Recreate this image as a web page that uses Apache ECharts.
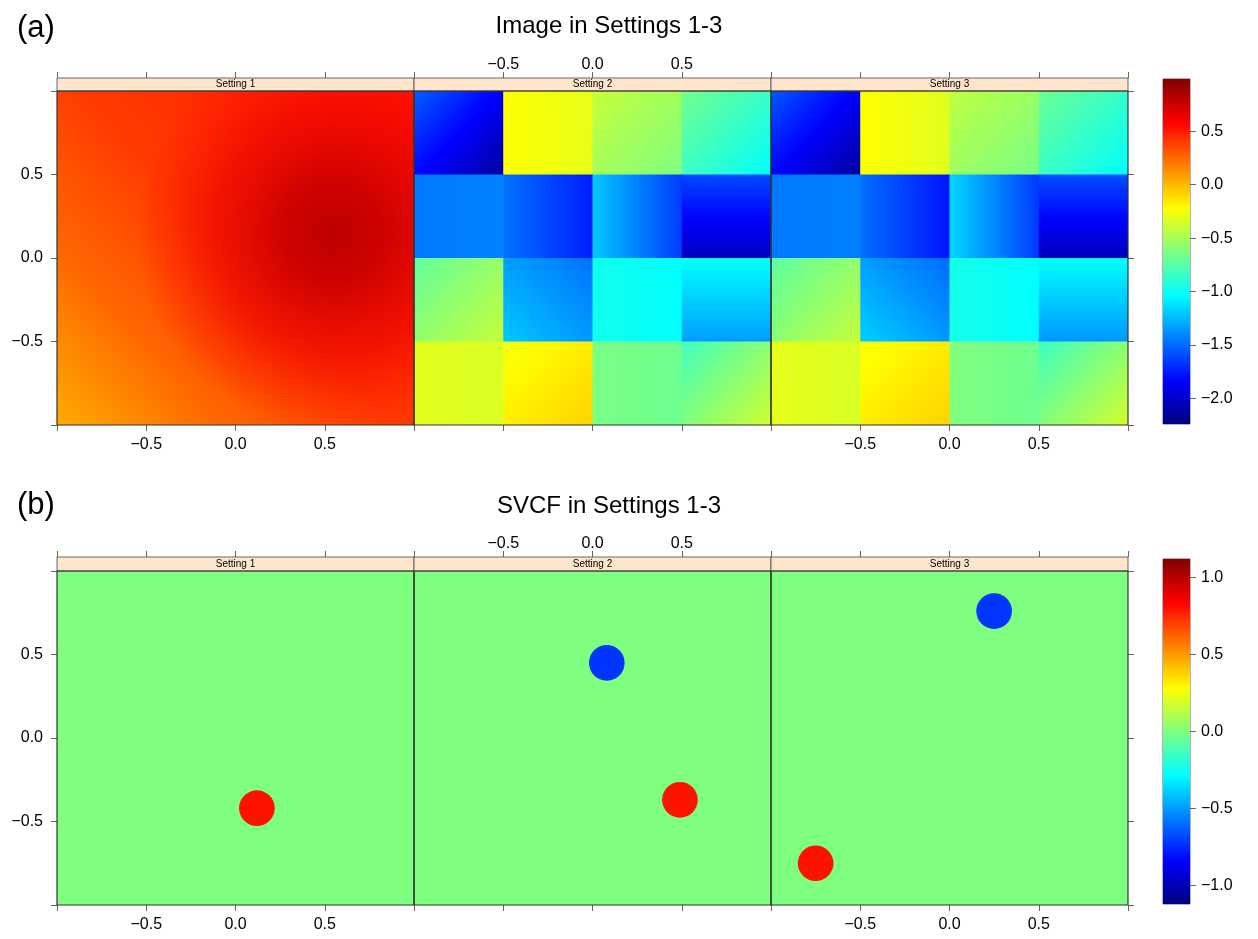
<!DOCTYPE html>
<html>
<head>
<meta charset="utf-8">
<script src="https://cdn.jsdelivr.net/npm/echarts@6/dist/echarts.min.js"></script>
<style>
  html, body { margin: 0; background: #fff; }
  #chart { width: 1258px; height: 939px; }
</style>
</head>
<body>
<div id="chart"></div>
<script>
const settings = ['Setting 1', 'Setting 2', 'Setting 3']
const panelTitles = ['Image in Settings 1-3', 'SVCF in Settings 1-3']
const panelTags = ['(a)', '(b)']

const imageRange = [-2.24, 0.99]
const imageBarTicks = [-2, -1.5, -1, -0.5, 0, 0.5]
const svcfRange = [-1.12, 1.12]
const svcfBarTicks = [-1, -0.5, 0, 0.5, 1]
const jetColors = ['#00007F', '#0000FF', '#007FFF', '#00FFFF', '#7FFF7F', '#FFFF00', '#FF7F00', '#FF0000', '#7F0000']

// Setting 1 image: smooth surface
// ramp along the diagonal bottom-left -> top-right: [position, value]
const s1Ramp = [[0, 0.04], [0.25, 0.26], [0.5, 0.4], [1, 0.52]]
const s1Peak = [0.55, 0.15]
// around the peak: [distance, value]
const s1PeakProfile = [[0, 0.8], [0.3, 0.75], [0.7, 0.65], [1.15, 0.56]]

// Settings 2-3 image: 4x4 blocks [x0, y0, valueStart, valueEnd, direction]
const s2Blocks = [
  [-1, 0.5, -1.53, -2.14, 'd'], [-0.5, 0.5, -0.22, -0.3, 'h'], [0, 0.5, -0.4, -0.63, 'd'], [0.5, 0.5, -0.66, -1.03, 'd'],
  [-1, 0, -1.45, -1.42, 'h'], [-0.5, 0, -1.47, -1.75, 'h'], [0, 0, -1.2, -1.65, 'h'], [0.5, 0, -1.6, -2.04, 'v'],
  [-1, -0.5, -0.72, -0.4, 'd'], [-0.5, -0.5, -1.2, -1.48, 'a'], [0, -0.5, -0.97, -1.03, 'h'], [0.5, -0.5, -1.02, -1.34, 'v'],
  [-1, -1, -0.31, -0.34, 'h'], [-0.5, -1, -0.26, -0.08, 'd'], [0, -1, -0.64, -0.68, 'h'], [0.5, -1, -0.83, -0.37, 'd'],
]
const s3Blocks = [
  [-1, 0.5, -1.55, -2.15, 'd'], [-0.5, 0.5, -0.22, -0.32, 'h'], [0, 0.5, -0.42, -0.65, 'd'], [0.5, 0.5, -0.68, -1.03, 'd'],
  [-1, 0, -1.45, -1.43, 'h'], [-0.5, 0, -1.48, -1.78, 'h'], [0, 0, -1.15, -1.66, 'h'], [0.5, 0, -1.58, -2.06, 'v'],
  [-1, -0.5, -0.74, -0.4, 'd'], [-0.5, -0.5, -1.18, -1.5, 'a'], [0, -0.5, -0.96, -1.03, 'h'], [0.5, -0.5, -1.02, -1.36, 'v'],
  [-1, -1, -0.3, -0.34, 'h'], [-0.5, -1, -0.25, -0.08, 'd'], [0, -1, -0.62, -0.68, 'h'], [0.5, -1, -0.84, -0.36, 'd'],
]

// SVCF: zero everywhere except discs [setting, x, y, radius, value]
const svcfBackground = 0
const svcfDiscs = [
  [0, 0.12, -0.42, 0.1, 0.8],
  [1, 0.08, 0.45, 0.1, -0.72],
  [1, 0.49, -0.37, 0.1, 0.8],
  [2, 0.25, 0.76, 0.1, -0.72],
  [2, -0.75, -0.75, 0.1, 0.8],
]

const FONT = 'Liberation Sans, Arial, Helvetica, sans-serif'
const COL_LEFT = [57, 414, 771]
const PANEL_W = 357
const PANEL_H = 334
const ROW_TOP = [91, 571]
const STRIP_H = [13, 14]
const BAR = [{ top: 79, height: 345 }, { top: 559, height: 345 }]
const GRAD_DIR = { h: [0, 0, 1, 0], v: [0, 0, 0, 1], d: [0, 0, 1, 1], a: [0, 1, 1, 0] }

const hexRgb = h => [1, 3, 5].map(i => parseInt(h.slice(i, i + 2), 16))
const JET = jetColors.map(hexRgb)

function jet(v, range, alpha) {
  let f = (v - range[0]) / (range[1] - range[0])
  f = Math.max(0, Math.min(1, f))
  const p = f * 8
  const i = Math.min(7, Math.floor(p))
  const t = p - i
  const c = JET[i].map((a, k) => Math.round(a + (JET[i + 1][k] - a) * t))
  return `rgba(${c[0]},${c[1]},${c[2]},${alpha == null ? 1 : alpha})`
}

const fmt = v => (v < 0 ? '\u2212' : '') + Math.abs(v).toFixed(1)

function valueStops(v1, v2, range) {
  const stops = []
  for (let k = 0; k <= 6; k++) stops.push({ offset: k / 6, color: jet(v1 + (v2 - v1) * k / 6, range) })
  return stops
}

function renderSmooth(params, api) {
  const tl = api.coord([-1, 1])
  const br = api.coord([1, -1])
  const shape = { x: tl[0], y: tl[1], width: br[0] - tl[0], height: br[1] - tl[1] }
  const base = new echarts.graphic.LinearGradient(0, 1, 1, 0,
    s1Ramp.map(([o, v]) => ({ offset: o, color: jet(v, imageRange) })))
  const c = api.coord(s1Peak)
  const maxD = s1PeakProfile[s1PeakProfile.length - 1][0]
  const rs = api.size([maxD, maxD])
  const glow = new echarts.graphic.RadialGradient(c[0], c[1], (rs[0] + rs[1]) / 2,
    s1PeakProfile.map(([d, v]) => ({ offset: d / maxD, color: jet(v, imageRange, 1 - Math.pow(d / maxD, 2)) })), true)
  return {
    type: 'group',
    children: [
      { type: 'rect', shape, style: { fill: base } },
      { type: 'rect', shape, style: { fill: glow } },
    ],
  }
}

function blockRenderer(blocks) {
  return (params, api) => {
    const b = blocks[params.dataIndex]
    const tl = api.coord([b[0], b[1] + 0.5])
    const sz = api.size([0.5, 0.5])
    const d = GRAD_DIR[b[4]]
    return {
      type: 'rect',
      shape: { x: tl[0], y: tl[1], width: sz[0] + 0.6, height: sz[1] + 0.6 },
      style: { fill: new echarts.graphic.LinearGradient(d[0], d[1], d[2], d[3], valueStops(b[2], b[3], imageRange)) },
    }
  }
}

function renderSvcfBackground(params, api) {
  const tl = api.coord([-1, 1])
  const sz = api.size([2, 2])
  return { type: 'rect', shape: { x: tl[0], y: tl[1], width: sz[0], height: sz[1] }, style: { fill: jet(api.value(0), svcfRange) } }
}

function renderDisc(params, api) {
  const c = api.coord([api.value(0), api.value(1)])
  const r = api.size([api.value(2), 0])[0]
  return { type: 'circle', shape: { cx: c[0], cy: c[1], r }, style: { fill: jet(api.value(3), svcfRange) } }
}

function renderBar(range) {
  return (params, api) => {
    const tl = api.coord([0, range[1]])
    const br = api.coord([1, range[0]])
    return {
      type: 'rect',
      shape: { x: tl[0], y: tl[1], width: br[0] - tl[0], height: br[1] - tl[1] },
      style: { fill: new echarts.graphic.LinearGradient(0, 1, 0, 0, jetColors.map((c, i) => ({ offset: i / 8, color: c }))) },
    }
  }
}

const grids = [], xAxes = [], yAxes = [], series = [], graphics = []
const noLine = { show: false, onZero: false }
const tickStyle = { show: true, length: 6, inside: false, lineStyle: { color: '#666', width: 1 } }
const labelStyle = (show, margin) => ({
  show, margin, color: '#000', fontSize: 16, fontFamily: FONT,
  formatter: v => (Math.abs(v) === 1 ? '' : fmt(v)),
})

for (let r = 0; r < 2; r++) {
  for (let c = 0; c < 3; c++) {
    const g = r * 3 + c
    grids.push({ left: COL_LEFT[c], top: ROW_TOP[r], width: PANEL_W, height: PANEL_H })
    const xBase = { type: 'value', gridIndex: g, min: -1, max: 1, interval: 0.5, axisLine: noLine, axisTick: tickStyle, splitLine: { show: false } }
    xAxes.push({ ...xBase, position: 'bottom', axisLabel: labelStyle(c !== 1, 12) })
    xAxes.push({ ...xBase, position: 'top', offset: STRIP_H[r], axisLabel: labelStyle(c === 1, 5) })
    const yBase = { type: 'value', gridIndex: g, min: -1, max: 1, interval: 0.5, axisLine: noLine, splitLine: { show: false } }
    yAxes.push({ ...yBase, position: 'left', axisTick: { ...tickStyle, show: c === 0 }, axisLabel: labelStyle(c === 0, 14) })
    yAxes.push({ ...yBase, position: 'right', axisTick: { ...tickStyle, show: c === 2 }, axisLabel: { show: false } })

    const axisRef = { xAxisIndex: 2 * g, yAxisIndex: 2 * g, coordinateSystem: 'cartesian2d', type: 'custom', silent: true, clip: true }
    if (r === 0) {
      if (c === 0) series.push({ ...axisRef, data: [[0]], renderItem: renderSmooth })
      else {
        const blocks = c === 1 ? s2Blocks : s3Blocks
        series.push({ ...axisRef, data: blocks.map(b => [b[0], b[1]]), renderItem: blockRenderer(blocks) })
      }
    } else {
      series.push({ ...axisRef, data: [[svcfBackground]], renderItem: renderSvcfBackground })
      series.push({ ...axisRef, data: svcfDiscs.filter(d => d[0] === c).map(d => d.slice(1)), renderItem: renderDisc })
    }

    // strip and panel border
    graphics.push({
      type: 'rect', z: 100,
      shape: { x: COL_LEFT[c], y: ROW_TOP[r] - STRIP_H[r], width: PANEL_W, height: STRIP_H[r] },
      style: { fill: '#FFE5CC', stroke: '#444', lineWidth: 0.8 },
    })
    graphics.push({
      type: 'text', z: 101,
      x: COL_LEFT[c] + PANEL_W / 2, y: ROW_TOP[r] - STRIP_H[r] / 2,
      style: { text: settings[c], fill: '#000', font: '10px ' + FONT, align: 'center', verticalAlign: 'middle' },
    })
    graphics.push({
      type: 'rect', z: 100,
      shape: { x: COL_LEFT[c], y: ROW_TOP[r], width: PANEL_W, height: PANEL_H },
      style: { fill: null, stroke: '#333', lineWidth: 1.2 },
    })
  }
}

// colour bars
;[imageRange, svcfRange].forEach((range, i) => {
  const g = grids.length
  const ticks = i === 0 ? imageBarTicks : svcfBarTicks
  grids.push({ left: 1163, top: BAR[i].top, width: 27, height: BAR[i].height, show: true, borderColor: '#667', borderWidth: 1 })
  xAxes.push({ type: 'value', gridIndex: g, min: 0, max: 1, show: false })
  yAxes.push({
    type: 'value', gridIndex: g, position: 'right', min: range[0], max: range[1],
    axisLine: noLine, splitLine: { show: false },
    axisTick: { ...tickStyle, customValues: ticks },
    axisLabel: { show: true, margin: 11, color: '#000', fontSize: 16, fontFamily: FONT, customValues: ticks, formatter: v => fmt(v) },
  })
  series.push({
    type: 'custom', coordinateSystem: 'cartesian2d', silent: true,
    xAxisIndex: xAxes.length - 1, yAxisIndex: yAxes.length - 1,
    data: [[0, range[0]]], renderItem: renderBar(range),
  })
})

const chart = echarts.init(document.getElementById('chart'), null, { renderer: 'canvas' })
chart.setOption({
  animation: false,
  backgroundColor: '#fff',
  title: [
    { text: panelTitles[0], left: 604, top: 9, textAlign: 'center', textStyle: { fontSize: 24, fontWeight: 'normal', color: '#000', fontFamily: FONT } },
    { text: panelTitles[1], left: 604, top: 489, textAlign: 'center', textStyle: { fontSize: 24, fontWeight: 'normal', color: '#000', fontFamily: FONT } },
    { text: panelTags[0], left: 12, top: 8, textStyle: { fontSize: 31, fontWeight: 'normal', color: '#000', fontFamily: FONT } },
    { text: panelTags[1], left: 12, top: 485, textStyle: { fontSize: 31, fontWeight: 'normal', color: '#000', fontFamily: FONT } },
  ],
  grid: grids,
  xAxis: xAxes,
  yAxis: yAxes,
  series,
  graphic: graphics,
})
</script>
</body>
</html>
